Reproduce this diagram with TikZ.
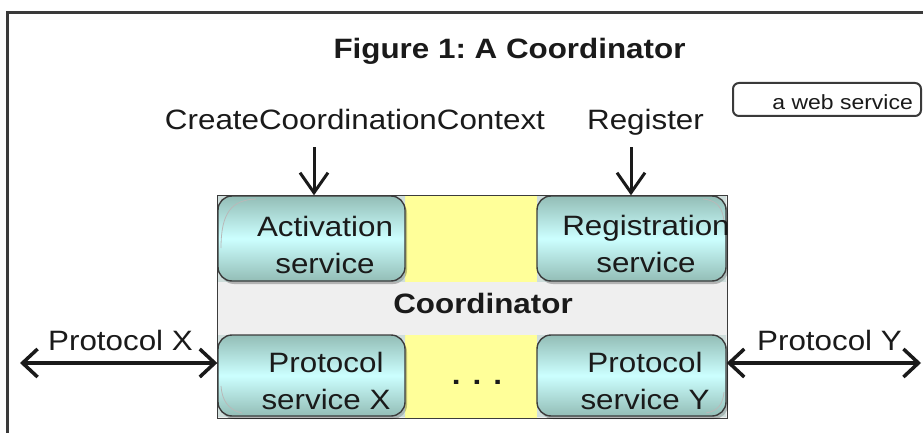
\documentclass[tikz,border=0pt]{standalone}
\usepackage{fontspec}
\setmainfont{Liberation Sans}[FakeStretch=1.12]
\usetikzlibrary{arrows.meta,calc}
\definecolor{framec}{HTML}{3A3A3A}
\definecolor{txt}{HTML}{1A1A1A}
\definecolor{bandgray}{HTML}{EFEFEF}
\definecolor{yell}{HTML}{FFFF99}
\definecolor{svcedge}{HTML}{93BDB6}
\definecolor{svcmid}{HTML}{CCFFFF}
\definecolor{svcline}{HTML}{3C3C3C}
\frenchspacing
\begin{document}
\begin{tikzpicture}[x=1pt,y=-1pt,
  every node/.style={text=txt, inner sep=0pt},
  mainfont/.style={font=\fontsize{28}{37}\selectfont},
  boldfont/.style={font=\fontsize{28}{34}\selectfont\bfseries},
  webfont/.style={font=\fontsize{20.5}{24}\selectfont},
  frameline/.style={draw=framec, line width=3},
  svc/.style={draw=svcline, line width=1.4, rounded corners=14, top color=svcedge, bottom color=svcedge, middle color=svcmid},
  svcshadow/.style={fill=black, fill opacity=.25, rounded corners=14},
  svcback/.style={top color=svcedge, bottom color=svcedge, middle color=svcmid, fill opacity=.35},
  arcdeco/.style={draw=gray!55, line width=0.8},
  webbox/.style={draw=framec, line width=2, rounded corners=6},
  coordbox/.style={fill=bandgray},
  varr/.style={-{Straight Barb[length=20pt,width=28pt]}, line width=3, draw=txt},
  harr/.style={{Straight Barb[length=15pt,width=28pt]}-{Straight Barb[length=15pt,width=28pt]}, line width=3.5, draw=txt}]
\useasboundingbox (0,0) rectangle (923,433);
\fill[white] (0,0) rectangle (923,433);
\draw[frameline] (7,436) -- (7,12.5) -- (926,12.5);

% title and legend
\node[boldfont, anchor=base] (title) at (509.5,59) {Figure 1: A Coordinator};
\node[webbox, minimum width=188, minimum height=33] (web) at (827,99.5) {};
\node[webfont, anchor=base east] (weblbl) at (913,110) {a web service};

% operation labels
\node[mainfont, anchor=base] (ccc) at (355,130) {CreateCoordinationContext};
\node[mainfont, anchor=base] (reglab) at (645.5,130) {Register};

% coordinator
\node[coordbox, minimum width=509, minimum height=222] (coord) at (472.5,307) {};
\fill[yell] (405,196) rectangle (537,282);
\fill[yell] (405,335) rectangle (537,418);
\draw[line width=1.3, draw=svcline] (coord.north west) rectangle (coord.south east);

% service boxes: shadows and backdrops
\fill[svcshadow] (220,199) rectangle (407,284);
\fill[svcshadow] (539,199) rectangle (728,284);
\fill[svcshadow] (220,338) rectangle (407,419);
\fill[svcshadow] (539,338) rectangle (728,419);
\shade[svcback] (218,196) rectangle (405,281);
\shade[svcback] (537,196) rectangle (726,281);
\shade[svcback] (218,335) rectangle (405,416);
\shade[svcback] (537,335) rectangle (726,416);

\node[svc, minimum width=187, minimum height=85] (act) at (311.5,238.5) {};
\node[svc, minimum width=189, minimum height=85] (reg) at (631.5,238.5) {};
\node[svc, minimum width=187, minimum height=81] (px) at (311.5,375.5) {};
\node[svc, minimum width=189, minimum height=81] (py) at (631.5,375.5) {};

\draw[arcdeco] (221,248) .. controls (221,212) and (232,200) .. (256,199);
\draw[arcdeco] (703,199) .. controls (716,200) and (723,207) .. (724,222);
\draw[arcdeco] (221,386) .. controls (222,400) and (228,410) .. (242,413);
\draw[arcdeco] (724,392) .. controls (723,404) and (718,411) .. (706,413);

\node[mainfont, align=center] (actl) at (325,244.5) {Activation\\service};
\node[mainfont, align=center] (regl) at (646,244) {Registration\\service};
\node[mainfont, align=center] (pxl) at (326,380.5) {Protocol\\service X};
\node[mainfont, align=center] (pyl) at (645,380.5) {Protocol\\service Y};

\node[boldfont, anchor=base] (coordl) at (483,313) {Coordinator};
\node[boldfont] (dots) at (477,382) {.\hspace{12pt}.\hspace{12pt}.};

% arrows
\coordinate (cccs) at (314,147);
\draw[varr] (cccs) -- (cccs |- act.north);
\coordinate (regs) at (631,147);
\draw[varr] (regs) -- (regs |- reg.north);
\coordinate (pxo) at (20,363);
\draw[harr] (pxo) -- (pxo -| px.west);
\coordinate (pyo) at (921,363);
\draw[harr] (py.east |- pyo) -- (pyo);
\node[mainfont, anchor=base] (pxlab) at (120.5,350) {Protocol X};
\node[mainfont, anchor=base] (pylab) at (829.5,350) {Protocol Y};
\end{tikzpicture}
\end{document}
